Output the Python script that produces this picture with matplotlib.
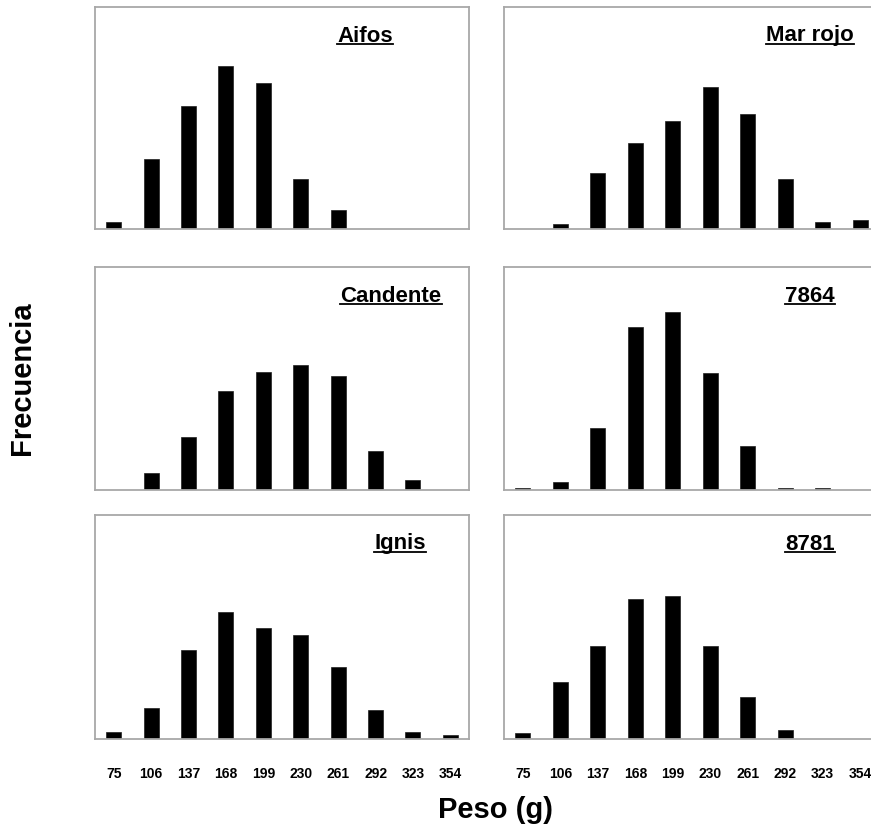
import numpy as np
import matplotlib
matplotlib.use('Agg')
import matplotlib.pyplot as plt
from matplotlib.lines import Line2D

plt.rcParams['font.family'] = ['Liberation Sans', 'DejaVu Sans']

# clases de peso (g)
pesos = ['75', '106', '137', '168', '199', '230', '261', '292', '323', '354']

# frecuencias (%)
aifos    = [1.0, 9.5, 16.6, 22.0, 19.7, 6.7, 2.6, 0, 0, 0]
mar_rojo = [0, 0.7, 7.6, 11.6, 14.6, 19.2, 15.5, 6.7, 1.0, 1.2]
candente = [0, 2.3, 7.1, 13.3, 15.9, 16.8, 15.4, 5.3, 1.35, 0]
v7864    = [0.22, 1.1, 8.3, 21.9, 24.0, 15.7, 5.9, 0.22, 0.22, 0]
ignis    = [1.0, 4.2, 11.9, 17.0, 14.8, 13.9, 9.7, 3.9, 1.0, 0.5]
v8781    = [0.76, 7.6, 12.5, 18.7, 19.2, 12.5, 5.6, 1.2, 0, 0]

nombres = ['Aifos', 'Mar rojo', 'Candente', '7864', 'Ignis', '8781']
series = [aifos, mar_rojo, candente, v7864, ignis, v8781]

W, H = 871, 831
fig = plt.figure(figsize=(W / 100, H / 100), dpi=100)

# posiciones de paneles en pixeles: (izq, arriba, ancho, alto)
cols = [(95, 374), (504, 375)]
rows = [(7, 222), (267, 223), (515, 224)]
# centro x del titulo (px) por panel
tit_x = [365, 810, 391, 810, 400, 810]

borde = '#a8a8a8'
x = np.arange(len(pesos))
titulos = []

for i, (nom, vals) in enumerate(zip(nombres, series)):
    r, c = divmod(i, 2)
    left, w = cols[c]
    top, h = rows[r]
    ax = fig.add_axes([left / W, 1 - (top + h) / H, w / W, h / H])
    ax.bar(x, vals, width=0.4, color='black', edgecolor='#202020', linewidth=0.5)
    ax.set_xlim(-0.5, 9.5)
    ax.set_ylim(0, 30)
    ax.set_yticks([])
    for s in ax.spines.values():
        s.set_color(borde)
        s.set_linewidth(1.3)
    if r == 2:
        ax.set_xticks(x)
        ax.set_xticklabels(pesos, fontsize=10, fontweight='bold')
        ax.tick_params(axis='x', length=0, pad=20)
    else:
        ax.set_xticks([])
    t = fig.text(tit_x[i] / W, 1 - (top + 29) / H, nom, fontsize=16,
                 fontweight='bold', ha='center', va='center')
    titulos.append(t)

fig.text(22 / W, 1 - 378 / H, 'Frecuencia', rotation=90, fontsize=21,
         fontweight='bold', ha='center', va='center')
fig.text(495 / W, 1 - 810 / H, 'Peso (g)', fontsize=21,
         fontweight='bold', ha='center', va='center')

# subrayado de los titulos
renderer = fig.canvas.get_renderer()
for t in titulos:
    bb = t.get_window_extent(renderer)
    yl = (bb.y0 + 0.1 * bb.height) / H
    fig.add_artist(Line2D([bb.x0 / W, bb.x1 / W], [yl, yl], color='black',
                          linewidth=1.3, transform=fig.transFigure))

fig.savefig('out.png', dpi=100)
